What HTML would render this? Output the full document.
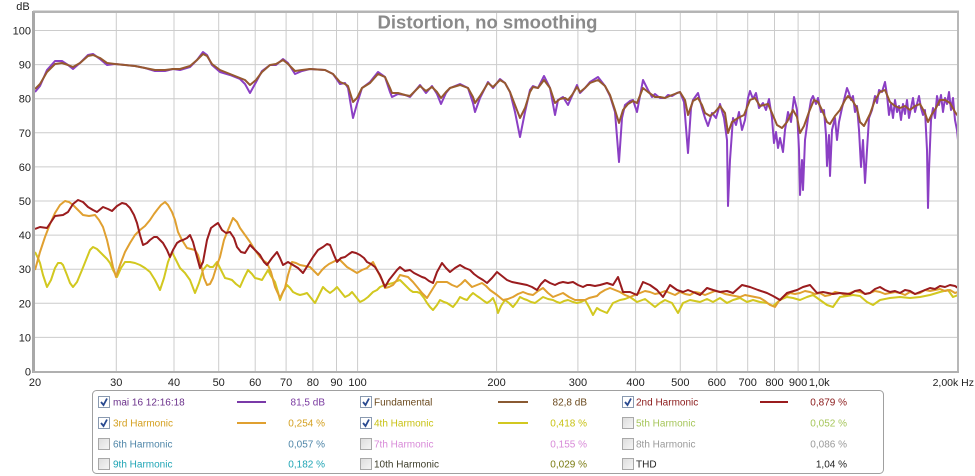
<!DOCTYPE html>
<html><head><meta charset="utf-8"><style>
html,body{margin:0;padding:0;background:#fff;}
svg{display:block;font-family:"Liberation Sans",Arial,sans-serif;}
</style></head><body>
<svg width="975" height="476" viewBox="0 0 975 476" xmlns="http://www.w3.org/2000/svg">
<rect width="975" height="476" fill="#fff"/>
<defs><clipPath id="pc"><rect x="35" y="13" width="923" height="359"/></clipPath></defs>
<!-- grid -->
<g stroke="#cccccc" stroke-width="1">
<line x1="35" x2="958" y1="30.5" y2="30.5"/><line x1="35" x2="958" y1="64.6" y2="64.6"/>
<line x1="35" x2="958" y1="98.7" y2="98.7"/><line x1="35" x2="958" y1="132.8" y2="132.8"/>
<line x1="35" x2="958" y1="166.9" y2="166.9"/><line x1="35" x2="958" y1="201" y2="201"/>
<line x1="35" x2="958" y1="235.1" y2="235.1"/><line x1="35" x2="958" y1="269.2" y2="269.2"/>
<line x1="35" x2="958" y1="303.3" y2="303.3"/><line x1="35" x2="958" y1="337.4" y2="337.4"/>
<line y1="12" y2="372" x1="116.3" x2="116.3"/><line y1="12" y2="372" x1="174" x2="174"/>
<line y1="12" y2="372" x1="218.7" x2="218.7"/><line y1="12" y2="372" x1="255.2" x2="255.2"/>
<line y1="12" y2="372" x1="286.1" x2="286.1"/><line y1="12" y2="372" x1="312.9" x2="312.9"/>
<line y1="12" y2="372" x1="336.5" x2="336.5"/><line y1="12" y2="372" x1="357.6" x2="357.6"/>
<line y1="12" y2="372" x1="496.6" x2="496.6"/><line y1="12" y2="372" x1="577.9" x2="577.9"/>
<line y1="12" y2="372" x1="635.6" x2="635.6"/><line y1="12" y2="372" x1="680.3" x2="680.3"/>
<line y1="12" y2="372" x1="716.8" x2="716.8"/><line y1="12" y2="372" x1="747.7" x2="747.7"/>
<line y1="12" y2="372" x1="774.5" x2="774.5"/><line y1="12" y2="372" x1="798.1" x2="798.1"/>
<line y1="12" y2="372" x1="819.3" x2="819.3"/>
</g>
<!-- title -->
<text x="487.5" y="28.5" text-anchor="middle" font-size="18.5" font-weight="bold" fill="#8a8a8a">Distortion, no smoothing</text>
<!-- curves -->
<g clip-path="url(#pc)" fill="none" stroke-width="2" stroke-linejoin="round">
<polyline stroke="#d2c820" points="35,252 38,258 40,263 43,275 47,287 51,280 55,268 58,263 61,263 63,265 67,275 70,283 73,287 77,282 82,270 86,260 90,250 93,247 97,249 100,252 103,255 107,259 110,263 113,270 117,277 121,268 125,262 130,262 135,263 140,265 145,268 150,272 155,280 160,290 164,278 168,262 172,252 176,260 180,268 185,273 190,280 195,293 199,283 203,270 207,265 210,267 213,267 217,262 221,270 225,278 229,279 232,280 236,284 240,287 244,278 248,270 252,274 255,278 259,279 262,280 265,275 268,270 271,276 275,282 278,292 280,300 283,292 287,285 290,288 293,292 297,294 300,295 304,294 307,293 311,298 315,303 319,295 323,287 326,290 330,293 334,290 337,287 341,292 345,297 349,295 352,292 356,297 360,302 364,300 368,297 371,294 373,292 377,290 380,287 385,285 389,284 393,283 397,281 400,280 404,284 407,287 410,290 413,292 417,292 420,293 424,298 427,303 430,307 433,310 437,305 440,300 444,302 447,303 450,305 453,307 457,302 460,297 464,299 467,300 470,296 473,293 477,296 480,298 484,301 487,303 490,301 493,298 496,305 498,313 501,306 505,300 509,303 513,307 517,302 520,297 524,299 527,300 531,302 535,303 539,300 543,297 548,299 553,300 557,302 560,303 564,301 568,300 573,302 577,303 581,302 585,300 589,307 593,315 597,308 600,310 607,313 613,303 620,300 625,299 630,297 637,302 645,299 650,303 655,307 660,303 665,300 672,303 678,313 683,303 690,300 700,302 707,299 713,302 720,298 727,303 733,300 740,298 747,302 753,300 760,302 767,303 773,306 780,300 787,297 793,298 800,300 807,297 813,295 820,300 827,305 833,307 840,297 847,296 853,295 860,296 867,302 873,305 880,300 890,298 900,297 910,298 920,297 930,295 940,292 948,290 953,297 958,295"/>
<polyline stroke="#e0a030" points="35,270 40,252 45,237 50,224 55,213 60,205 65,201 69,202 73,205 78,210 83,215 89,216 95,215 99,220 103,227 107,240 110,253 113,267 116,277 120,265 125,252 130,243 135,235 140,230 145,226 150,220 154,214 157,210 161,205 165,202 168,205 172,212 175,220 178,232 182,240 187,248 191,249 195,250 198,255 201,265 204,278 207,285 210,284 213,278 217,265 220,257 224,240 228,230 233,218 237,222 240,228 245,235 250,242 255,250 260,257 264,261 267,263 271,272 275,287 280,298 285,288 288,275 292,262 296,263 300,265 305,266 310,267 314,271 318,275 322,270 325,267 329,264 333,262 337,260 340,260 344,264 347,267 352,270 357,273 362,270 367,268 370,265 373,262 376,268 378,272 382,280 385,288 389,287 393,285 397,280 400,275 404,276 408,277 413,282 418,288 422,293 427,298 432,290 437,282 442,282 447,282 452,285 457,287 461,284 465,280 469,284 472,287 477,285 482,283 486,286 490,290 497,295 503,300 508,299 513,297 518,294 523,292 528,294 533,295 538,291 543,288 548,293 553,297 558,295 563,293 569,297 575,300 580,300 585,300 589,298 593,297 597,296 600,293 605,290 610,288 615,290 620,292 625,295 630,297 635,295 640,293 645,291 650,292 655,294 660,293 665,291 670,293 675,295 680,292 685,294 690,295 695,292 700,293 705,295 710,293 715,291 720,292 725,294 730,295 735,296 740,297 745,295 750,296 755,297 760,298 765,301 770,305 775,307 779,301 783,297 787,295 790,293 795,294 800,293 805,291 810,292 815,294 820,293 825,296 830,295 835,292 840,293 845,295 850,293 855,291 860,292 865,294 870,293 875,291 880,292 885,294 890,293 895,292 900,293 905,295 910,292 915,294 920,293 925,290 930,291 935,290 940,289 945,291 950,290 955,293 958,292"/>
<polyline stroke="#9a1c1e" points="35,229 40,227 47,228 55,216 63,215 68,212 73,204 78,200 83,202 88,207 93,210 97,212 103,207 108,209 112,211 117,206 122,203 126,204 130,208 134,215 137,223 140,235 143,245 147,243 150,240 154,237 157,237 160,240 163,243 167,250 170,257 173,250 177,243 180,241 183,240 187,238 190,235 193,242 197,257 200,268 203,262 207,240 211,228 215,225 218,223 222,230 226,233 230,232 234,238 237,247 241,252 245,253 250,245 255,250 260,255 264,262 267,265 272,258 277,252 280,258 283,265 288,262 293,265 298,268 303,273 308,265 313,257 318,250 323,247 327,244 330,245 334,255 337,262 341,258 345,257 349,254 352,252 356,253 360,255 364,258 367,262 371,264 375,267 380,275 385,287 389,280 393,275 397,270 400,267 405,271 410,270 414,273 418,275 422,277 425,278 429,281 433,283 437,272 442,263 446,268 450,272 455,268 460,265 465,268 470,270 474,274 478,277 483,280 487,283 492,278 497,272 502,276 507,280 512,282 517,283 522,284 527,285 532,287 537,290 541,284 545,280 550,283 555,285 559,283 563,282 568,283 573,282 578,285 583,287 587,285 590,285 595,286 600,285 607,283 613,285 618,277 623,292 630,292 637,295 643,282 650,285 657,290 663,297 670,285 677,290 683,292 688,290 693,292 700,295 707,288 713,290 720,292 727,291 733,293 742,285 750,287 758,290 767,293 773,296 780,300 787,293 797,290 803,287 810,285 817,293 823,292 833,294 840,293 850,294 855,291 860,290 865,294 870,293 875,289 880,287 885,290 890,292 895,291 900,293 905,290 910,291 915,294 920,292 925,290 930,288 935,289 940,286 945,287 950,285 955,286 958,288"/>
<polyline stroke="#8b3fc4" points="35,92 40,86 47,70 55,61 62,61 68,65 73,69 80,63 88,55 93,54 100,59 107,65 115,64 125,65 135,66 145,68 155,71 165,71 173,69 180,70 190,67 197,60 203,52 207,55 212,65 220,72 230,75 240,79 245,84 250,93 255,84 262,71 270,65 276,65 283,59 288,63 295,74 302,71 310,69 325,70 333,74 340,84 345,83 348,88 353,118 357,104 362,88 370,82 378,72 385,77 390,92 392,97 398,94 405,95 410,97 420,85 426,93 432,86 437,94 441,104 446,93 450,88 460,84 468,88 473,103 475,112 480,98 488,82 493,88 500,79 505,83 510,92 515,112 520,137 525,112 530,90 533,86 538,88 544,76 550,88 555,115 558,100 563,97 568,105 572,96 577,85 580,93 585,88 590,82 598,77 605,86 610,96 615,112 619,162 622,118 625,105 630,101 633,100 637,112 643,80 648,90 652,97 655,94 660,98 665,98 668,95 672,96 677,93 680,92 684,102 688,153 691,108 693,100 698,93 702,108 705,118 708,126 712,113 716,118 720,104 724,118 727,140 728,206 730,160 733,118 736,125 739,112 742,130 745,120 748,98 750,91 753,99 756,93 759,108 763,103 766,110 769,99 772,118 774,143 776,132 778,148 780,138 783,152 785,130 788,112 791,122 794,97 797,110 799,150 800,195 802,160 803,190 805,140 808,118 811,100 813,96 816,104 818,98 821,112 824,110 826,135 827,166 829,135 830,176 832,130 835,118 837,140 839,122 842,108 845,96 847,88 849,93 851,100 853,96 855,112 857,106 859,130 861,167 863,140 865,183 867,150 869,118 872,110 875,96 877,103 879,90 882,92 885,82 887,95 889,115 891,104 893,118 895,100 897,112 899,106 901,120 903,104 905,114 907,100 909,118 911,108 913,98 915,112 917,104 919,96 921,108 923,115 925,110 927,150 928,208 929,170 931,120 933,108 935,118 937,96 939,105 941,95 943,112 945,98 947,104 949,92 951,110 953,98 955,120 957,130 958,140"/>
<polyline stroke="#96592f" points="35,89 40,84 47,72 55,64 62,63 68,65 73,67 80,63 88,56 93,55 100,58 107,63 115,64 125,65 135,66 145,68 155,70 165,70 173,69 180,69 190,66 197,60 203,54 207,56 212,64 220,70 230,74 240,78 245,80 250,85 256,80 262,72 270,65 276,64 283,60 288,64 295,71 302,70 310,69 325,70 333,74 340,82 345,84 348,86 353,102 357,98 362,88 370,83 378,74 385,77 390,88 392,93 398,93 405,95 410,96 420,86 426,91 432,87 437,92 441,98 446,92 450,88 460,85 468,88 473,97 475,103 480,96 488,83 493,87 500,80 505,83 510,92 515,105 520,118 525,108 530,92 533,87 538,88 544,80 550,88 555,103 560,99 565,98 568,100 572,95 577,87 580,92 585,88 590,83 598,80 605,86 610,95 615,110 619,123 623,110 628,104 633,101 637,103 643,88 648,92 655,97 660,97 665,98 672,95 680,92 685,100 688,115 693,101 698,98 702,105 705,113 710,116 715,112 720,106 725,113 728,133 732,122 738,118 744,115 750,100 755,98 760,106 768,104 772,113 777,125 782,128 787,122 793,110 797,117 800,133 804,126 809,112 814,100 818,102 822,110 827,122 830,124 835,116 840,110 845,100 848,96 852,100 857,108 860,122 864,126 870,114 875,100 880,92 885,90 890,102 895,106 900,108 905,106 910,110 915,106 920,104 925,113 928,122 932,114 936,108 940,100 945,100 950,103 955,112 958,116"/>
</g>
<!-- frame -->
<rect x="34" y="12" width="924" height="360" fill="none" stroke="#b8b8b8" stroke-width="2"/>
<line x1="33.5" y1="11" x2="33.5" y2="373" stroke="#a8a8a8" stroke-width="3"/>
<line x1="33" y1="11.5" x2="959" y2="11.5" stroke="#b4b4b4" stroke-width="2"/>
<line x1="33" y1="372" x2="959" y2="372" stroke="#b0b0b0" stroke-width="2"/>
<!-- y labels -->
<g font-size="11" fill="#222" text-anchor="end">
<text x="23" y="10" text-anchor="middle">dB</text>
<text x="31" y="34.5">100</text><text x="31" y="68.6">90</text><text x="31" y="102.7">80</text>
<text x="31" y="136.8">70</text><text x="31" y="170.9">60</text><text x="31" y="205">50</text>
<text x="31" y="239.1">40</text><text x="31" y="273.2">30</text><text x="31" y="307.3">20</text>
<text x="31" y="341.4">10</text><text x="31" y="375.5">0</text>
</g>
<!-- x labels -->
<g font-size="11" fill="#222" text-anchor="middle">
<text x="35" y="386">20</text><text x="116.3" y="386">30</text><text x="174" y="386">40</text>
<text x="218.7" y="386">50</text><text x="255.2" y="386">60</text><text x="286.1" y="386">70</text>
<text x="312.9" y="386">80</text><text x="336.5" y="386">90</text><text x="357.6" y="386">100</text>
<text x="496.6" y="386">200</text><text x="577.9" y="386">300</text><text x="635.6" y="386">400</text>
<text x="680.3" y="386">500</text><text x="716.8" y="386">600</text><text x="747.7" y="386">700</text>
<text x="774.5" y="386">800</text><text x="798.1" y="386">900</text><text x="819.3" y="386">1,0k</text>
<text x="974" y="386" text-anchor="end" font-size="10.5">2,00k Hz</text>
</g>
<!-- legend -->
<rect x="92.5" y="390.5" width="791" height="83" rx="4" fill="#fff" stroke="#a0a0a0" stroke-width="1"/>
<defs>
<linearGradient id="ug" x1="0" y1="0" x2="1" y2="1"><stop offset="0" stop-color="#dcdcdc"/><stop offset="1" stop-color="#f6f6f6"/></linearGradient>
</defs>
<g stroke-width="1">
<g fill="#fff" stroke="#8a9ab0">
<rect x="98.5" y="396.5" width="11" height="11"/><rect x="98.5" y="417.5" width="11" height="11"/>
<rect x="360.5" y="396.5" width="11" height="11"/><rect x="360.5" y="417.5" width="11" height="11"/>
<rect x="622.5" y="396.5" width="11" height="11"/>
</g>
<g fill="none" stroke="#2a4a90" stroke-width="1.8">
<polyline points="101,402 103.5,405 107,398.5"/><polyline points="101,423 103.5,426 107,419.5"/>
<polyline points="363,402 365.5,405 369,398.5"/><polyline points="363,423 365.5,426 369,419.5"/>
<polyline points="625,402 627.5,405 631,398.5"/>
</g>
<g fill="url(#ug)" stroke="#a8a8a8">
<rect x="98.5" y="438.5" width="11" height="11"/><rect x="98.5" y="458.5" width="11" height="11"/>
<rect x="360.5" y="438.5" width="11" height="11"/><rect x="360.5" y="458.5" width="11" height="11"/>
<rect x="622.5" y="417.5" width="11" height="11"/><rect x="622.5" y="438.5" width="11" height="11"/>
<rect x="622.5" y="458.5" width="11" height="11"/>
</g>
</g>
<g stroke-width="2">
<line x1="237" x2="266" y1="402" y2="402" stroke="#7a3aa8"/>
<line x1="237" x2="266" y1="423" y2="423" stroke="#e0a030"/>
<line x1="498" x2="528" y1="402" y2="402" stroke="#8a5a32"/>
<line x1="498" x2="528" y1="423" y2="423" stroke="#d2c820"/>
<line x1="760" x2="788" y1="402" y2="402" stroke="#9a1c1e"/>
</g>
<g font-size="10">
<text x="113" y="405.5" fill="#6a2f8a">mai 16 12:16:18</text>
<text x="325" y="405.5" fill="#7a3aa0" text-anchor="end">81,5 dB</text>
<text x="374" y="405.5" fill="#6b4a1f">Fundamental</text>
<text x="587" y="405.5" fill="#6b4a1f" text-anchor="end">82,8 dB</text>
<text x="636" y="405.5" fill="#8b1a1a">2nd Harmonic</text>
<text x="847" y="405.5" fill="#8b1a1a" text-anchor="end">0,879 %</text>

<text x="113" y="426.5" fill="#d4a020">3rd Harmonic</text>
<text x="325" y="426.5" fill="#d4a020" text-anchor="end">0,254 %</text>
<text x="374" y="426.5" fill="#c8c214">4th Harmonic</text>
<text x="587" y="426.5" fill="#c8c214" text-anchor="end">0,418 %</text>
<text x="636" y="426.5" fill="#a6c65a">5th Harmonic</text>
<text x="847" y="426.5" fill="#a6c65a" text-anchor="end">0,052 %</text>

<text x="113" y="447.5" fill="#4f86a8">6th Harmonic</text>
<text x="325" y="447.5" fill="#4f86a8" text-anchor="end">0,057 %</text>
<text x="374" y="447.5" fill="#d88ad8">7th Harmonic</text>
<text x="587" y="447.5" fill="#d88ad8" text-anchor="end">0,155 %</text>
<text x="636" y="447.5" fill="#9a9a9a">8th Harmonic</text>
<text x="847" y="447.5" fill="#9a9a9a" text-anchor="end">0,086 %</text>

<text x="113" y="467.5" fill="#1fa5b5">9th Harmonic</text>
<text x="325" y="467.5" fill="#1fa5b5" text-anchor="end">0,182 %</text>
<text x="374" y="467.5" fill="#3d3d2a">10th Harmonic</text>
<text x="587" y="467.5" fill="#7a7a10" text-anchor="end">0,029 %</text>
<text x="636" y="467.5" fill="#222">THD</text>
<text x="847" y="467.5" fill="#222" text-anchor="end">1,04 %</text>
</g>
</svg>
</body></html>
